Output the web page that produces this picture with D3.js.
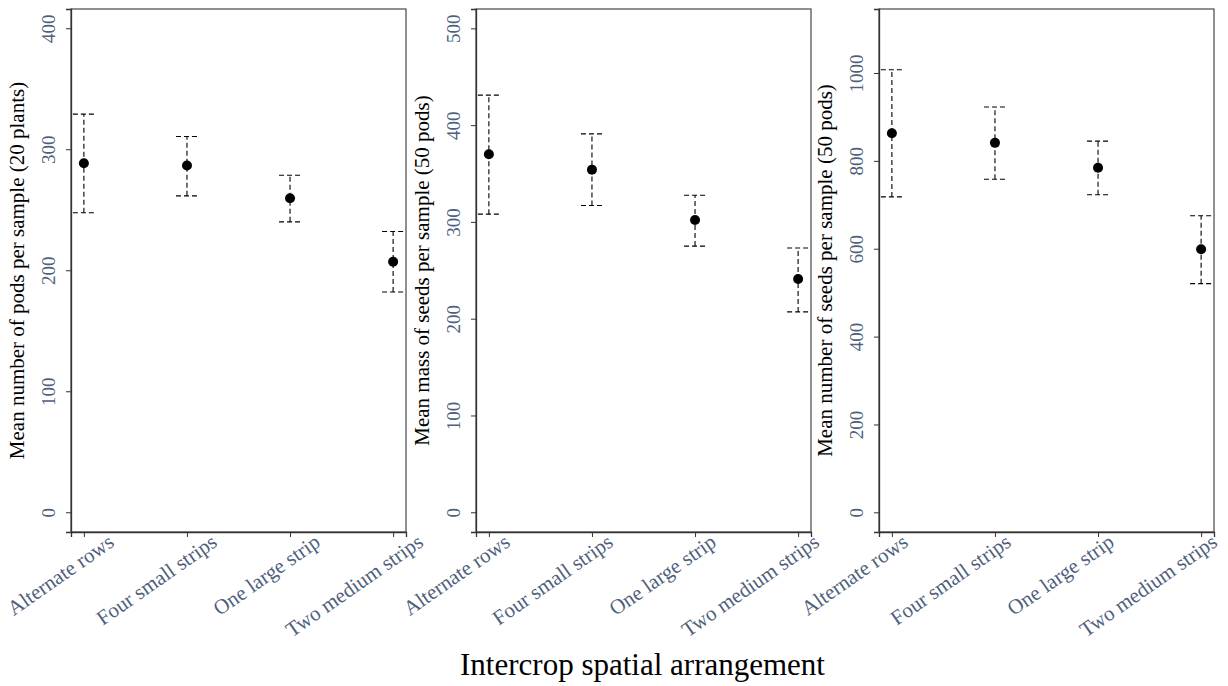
<!DOCTYPE html>
<html>
<head>
<meta charset="utf-8">
<script src="https://cdn.jsdelivr.net/npm/d3@7"></script>
<style>
  html, body { margin: 0; padding: 0; background: #fff; }
  svg { display: block; font-family: "Liberation Serif", "Times New Roman", serif; }
</style>
</head>
<body>
<svg id="chart" width="1228" height="686"></svg>
<script>
// ---- data ----
const categories = ["Alternate rows", "Four small strips", "One large strip", "Two medium strips"];

const podsMean = [288.5, 286.5, 259.5, 207];
const podsLow  = [247.5, 261.5, 240, 182];
const podsHigh = [329, 310.5, 278.5, 232];

const massMean = [370, 354, 302, 241];
const massLow  = [308, 317, 275, 207];
const massHigh = [431, 391, 327.5, 273];

const seedsMean = [863, 841, 784.5, 599];
const seedsLow  = [718, 758, 723, 520.5];
const seedsHigh = [1007.5, 922.5, 845, 675];

const podsTicks  = [0, 100, 200, 300, 400];
const massTicks  = [0, 100, 200, 300, 400, 500];
const seedsTicks = [0, 200, 400, 600, 800, 1000];

const podsDomain  = [-16.3, 415.9];
const massDomain  = [-20.4, 520];
const seedsDomain = [-44.8, 1145.7];

const yTitles = [
  "Mean number of pods per sample (20 plants)",
  "Mean mass of seeds per sample (50 pods)",
  "Mean number of seeds per sample (50 pods)"
];
const xTitle = "Intercrop spatial arrangement";

// ---- layout ----
(function () {
const svg = d3.select("#chart");
const plotTop = 9, plotBottom = 532;
const panelLefts = [71, 476, 879];
const panelWidth = 335;
const labelShift = [31, 22, 17];
const tickColor = "#4f5f7c";

const panels = [
  { mean: podsMean, low: podsLow, high: podsHigh, ticks: podsTicks, domain: podsDomain, title: yTitles[0] },
  { mean: massMean, low: massLow, high: massHigh, ticks: massTicks, domain: massDomain, title: yTitles[1] },
  { mean: seedsMean, low: seedsLow, high: seedsHigh, ticks: seedsTicks, domain: seedsDomain, title: yTitles[2] }
];

panels.forEach((p, i) => {
  const left = panelLefts[i], right = left + panelWidth;
  const x = d3.scalePoint().domain(categories).range([left, right]).padding(0.125);
  const y = d3.scaleLinear().domain(p.domain).range([plotBottom, plotTop]);
  const g = svg.append("g");

  // frame
  g.append("rect")
    .attr("x", left).attr("y", plotTop)
    .attr("width", panelWidth).attr("height", plotBottom - plotTop)
    .attr("fill", "none").attr("stroke", "#555").attr("stroke-width", 1.3);

  // y axis
  const ya = g.append("g").attr("transform", `translate(${left},0)`)
    .call(d3.axisLeft(y).tickValues(p.ticks).tickSize(5).tickFormat(d3.format("d")));
  ya.select(".domain").attr("stroke", "#333").attr("stroke-width", 1.3);
  ya.selectAll(".tick line").attr("stroke", "#333");
  ya.selectAll(".tick text")
    .attr("fill", tickColor)
    .attr("font-size", 19)
    .attr("font-family", "Liberation Serif")
    .attr("text-anchor", "middle")
    .attr("x", 0).attr("dy", 0)
    .attr("transform", "translate(-16,0) rotate(-90)");

  // x axis
  const xa = g.append("g").attr("transform", `translate(0,${plotBottom})`)
    .call(d3.axisBottom(x).tickSize(5));
  xa.select(".domain").attr("stroke", "#333").attr("stroke-width", 1.3);
  xa.selectAll(".tick line").attr("stroke", "#333");
  xa.selectAll(".tick text")
    .attr("fill", tickColor)
    .attr("font-size", 21)
    .attr("font-family", "Liberation Serif")
    .attr("text-anchor", "end")
    .attr("x", 0).attr("y", 0).attr("dy", 0)
    .attr("transform", `translate(${labelShift[i]},13) rotate(-35)`);

  // y title
  g.append("text")
    .attr("transform", `translate(${left - 47},${(plotTop + plotBottom) / 2}) rotate(-90)`)
    .attr("text-anchor", "middle")
    .attr("font-size", 21)
    .attr("fill", "#000")
    .text(p.title);

  // error bars
  const idx = d3.range(categories.length);
  const capHalf = 11;
  const eb = g.append("g").attr("stroke", "#000").attr("stroke-width", 1.1)
    .attr("stroke-dasharray", "5,3").attr("fill", "none");
  eb.selectAll(".v").data(idx).join("line")
    .attr("x1", d => x(categories[d])).attr("x2", d => x(categories[d]))
    .attr("y1", d => y(p.low[d])).attr("y2", d => y(p.high[d]));
  eb.selectAll(".cu").data(idx).join("line")
    .attr("x1", d => x(categories[d]) - capHalf).attr("x2", d => x(categories[d]) + capHalf)
    .attr("y1", d => y(p.high[d])).attr("y2", d => y(p.high[d]));
  eb.selectAll(".cl").data(idx).join("line")
    .attr("x1", d => x(categories[d]) - capHalf).attr("x2", d => x(categories[d]) + capHalf)
    .attr("y1", d => y(p.low[d])).attr("y2", d => y(p.low[d]));

  // points
  g.selectAll(".pt").data(idx).join("circle")
    .attr("cx", d => x(categories[d])).attr("cy", d => y(p.mean[d]))
    .attr("r", 5).attr("fill", "#000");
});

// x title
svg.append("text")
  .attr("x", (panelLefts[0] + panelLefts[2] + panelWidth) / 2)
  .attr("y", 675)
  .attr("text-anchor", "middle")
  .attr("font-size", 31)
  .attr("fill", "#000")
  .text(xTitle);
})();
</script>
</body>
</html>
